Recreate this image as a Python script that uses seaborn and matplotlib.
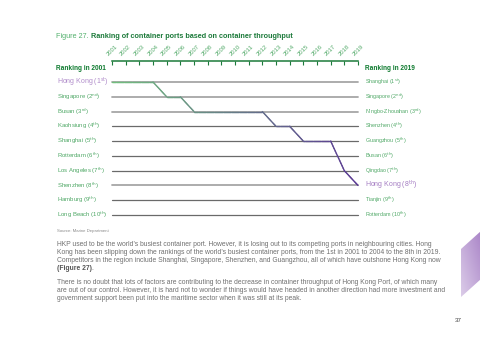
import numpy as np
import pandas as pd
import matplotlib
matplotlib.use("Agg")
import matplotlib.pyplot as plt
import seaborn as sns
from matplotlib.collections import LineCollection
from matplotlib.colors import to_rgb
from matplotlib.patches import Polygon

# ---------------- data ----------------
years = list(range(2001, 2020))
year_labels = [str(y) for y in years]
ranks = list(range(1, 11))
ports_2001 = ["Hong Kong", "Singapore", "Busan", "Kaohsiung", "Shanghai",
              "Rotterdam", "Los Angeles", "Shenzhen", "Hamburg", "Long Beach"]
ports_2019 = ["Shanghai", "Singapore", "Ningbo-Zhoushan", "Shenzhen", "Guangzhou",
              "Busan", "Qingdao", "Hong Kong", "Tianjin", "Rotterdam"]
ordinals = ["st", "nd", "rd", "th", "th", "th", "th", "th", "th", "th"]
hk_ranks = [1, 1, 1, 1, 2, 2, 3, 3, 3, 3, 3, 3, 4, 4, 5, 5, 5, 7, 8]

title_a = "Figure 27."
title_b = " Ranking of container ports based on container throughput"
source = "Source: Marine Department"
para1 = ["HKP used to be the world\u2019s busiest container port. However, it is losing out to its competing ports in neighbouring cities. Hong",
         "Kong has been slipping down the rankings of the world\u2019s busiest container ports, from the 1st in 2001 to 2004 to the 8th in 2019.",
         "Competitors in the region include Shanghai, Singapore, Shenzhen, and Guangzhou, all of which have outshone Hong Kong now"]
para1_last = "(Figure 27)"
para2 = ["There is no doubt that lots of factors are contributing to the decrease in container throughput of Hong Kong Port, of which many",
         "are out of our control. However, it is hard not to wonder if things would have headed in another direction had more investment and",
         "government support been put into the maritime sector when it was still at its peak."]
page_no = "37"

# ---------------- style ----------------
sns.set_style("white")
plt.rcParams["font.family"] = ["Liberation Sans", "DejaVu Sans"]

W, H = 480, 338
fig = plt.figure(figsize=(W / 100, H / 100), dpi=100)
fig.patch.set_facecolor("white")

def fx(x):
    return x / W

def fy(y):
    return 1 - y / H

DARK_GREEN = "#1c7a3a"
LABEL_GREEN = "#4fa866"
LIGHT_PURPLE = "#b08cca"
TEXT_GRAY = "#707070"

# axes: 2001 -> px 112, 2019 -> px 358 ; top axis line at px 61
top_px, bot_px = 61, 222.4
ax = fig.add_axes([fx(112), fy(bot_px), (358 - 112) / W, (bot_px - top_px) / H])
ax.set_facecolor("none")
ax.set_xlim(2001, 2019)
ax.set_ylim(10.5, -0.421)

# grey rank lines
light_rows = {1, 2, 3, 8}
rows_df = pd.DataFrame([(y, r) for r in ranks for y in (years[0], years[-1])],
                       columns=["year", "rank"])
for r in ranks:
    sub = rows_df[rows_df["rank"] == r]
    light = r in light_rows
    sns.lineplot(data=sub, x="year", y="rank", ax=ax,
                 color="#a6a6a6" if light else "#6a6a6a",
                 linewidth=1.3 if light else 0.9, clip_on=False, zorder=2)

# Hong Kong line with green -> purple gradient
c0 = np.array(to_rgb("#72c07e"))
c1 = np.array(to_rgb("#5a3893"))
segs, cols = [], []
for i in range(len(years) - 1):
    n = 12
    xs = np.linspace(years[i], years[i + 1], n + 1)
    ys = np.linspace(hk_ranks[i], hk_ranks[i + 1], n + 1)
    for k in range(n):
        segs.append([(xs[k], ys[k]), (xs[k + 1], ys[k + 1])])
        t = ((xs[k] + xs[k + 1]) / 2 - years[0]) / (years[-1] - years[0])
        cols.append(tuple(c0 * (1 - t) + c1 * t))
lc = LineCollection(segs, colors=cols, linewidths=1.0, zorder=3,
                    capstyle="round", clip_on=False)
ax.add_collection(lc)

# axis styling
for s in ["left", "right", "bottom"]:
    ax.spines[s].set_visible(False)
ax.spines["top"].set_color(DARK_GREEN)
ax.spines["top"].set_linewidth(1.1)
ax.xaxis.tick_top()
ax.set_xticks(years)
ax.set_xticklabels(year_labels, rotation=45, ha="center", va="bottom",
                   fontsize=4.2, color=LABEL_GREEN)
ax.tick_params(axis="x", top=True, bottom=False, direction="in", length=3,
               width=0.8, color=DARK_GREEN, pad=3)
ax.set_yticks([])
ax.set_xlabel("")
ax.set_ylabel("")

# ---------------- texts ----------------
t1 = fig.text(fx(56), fy(36), title_a, fontsize=5.2, color="#52b06c", va="center")
fig.add_artist(plt.Annotation(title_b, xy=(1, 0.5), xycoords=t1,
                              va="center", fontsize=5.2, color=DARK_GREEN,
                              fontweight="bold"))

fig.text(fx(56), fy(69), "Ranking in 2001", fontsize=4.7, color="#0d7a2e",
         fontweight="bold", va="center")
fig.text(fx(365), fy(69), "Ranking in 2019", fontsize=4.7, color="#0d7a2e",
         fontweight="bold", va="center")

def row_y(r):
    return 82 + (r - 1) * 14.78

for r, name, o in zip(ranks, ports_2001, ordinals):
    hk = name == "Hong Kong"
    fig.text(fx(57), fy(row_y(r)), f"{name} ({r}$^{{\\mathrm{{{o}}}}}$)",
             fontsize=5.0 if hk else 4.3,
             color=LIGHT_PURPLE if hk else LABEL_GREEN, va="center")
for r, name, o in zip(ranks, ports_2019, ordinals):
    hk = name == "Hong Kong"
    fig.text(fx(365), fy(row_y(r)), f"{name} ({r}$^{{\\mathrm{{{o}}}}}$)",
             fontsize=5.0 if hk else 3.9,
             color="#a47cc2" if hk else LABEL_GREEN, va="center")

fig.text(fx(57), fy(231), source, fontsize=3.1, color="#8a8a8a", va="center")

para_fs = 4.9
y0 = 245
for i, line in enumerate(para1):
    fig.text(fx(57), fy(y0 + i * 8), line, fontsize=para_fs, color=TEXT_GRAY, va="center")
fl = fig.text(fx(57), fy(y0 + 3 * 8), para1_last, fontsize=para_fs, color="#555555",
              fontweight="bold", va="center")
fig.add_artist(plt.Annotation(".", xy=(1, 0.5), xycoords=fl, va="center",
                              fontsize=para_fs, color=TEXT_GRAY))
y1 = 283
for i, line in enumerate(para2):
    fig.text(fx(57), fy(y1 + i * 8), line, fontsize=para_fs, color=TEXT_GRAY, va="center")

fig.text(fx(458), fy(321), page_no, fontsize=4.5, color="#444444", va="center", ha="center")

# decorative purple parallelogram on the right edge
poly_pts = [(fx(461), fy(249)), (fx(481), fy(231)), (fx(481), fy(279)), (fx(461), fy(297))]
poly = Polygon(poly_pts, closed=True, transform=fig.transFigure, facecolor="none",
               edgecolor="none")
fig.add_artist(poly)
bg = fig.add_axes([fx(461), fy(298), fx(20), (298 - 230) / H])
bg.set_axis_off()
grad = np.linspace(0, 1, 100)
gx, gy = np.meshgrid(grad, grad)
tt = (gx + gy) / 2
ca = np.array(to_rgb("#dccde9"))
cb = np.array(to_rgb("#a882c6"))
img = ca[None, None, :] * (1 - tt[..., None]) + cb[None, None, :] * tt[..., None]
im = bg.imshow(img, extent=[0, 1, 0, 1], origin="lower", aspect="auto")
im.set_clip_path(poly)

fig.savefig("out.png", dpi=100, facecolor="white")
